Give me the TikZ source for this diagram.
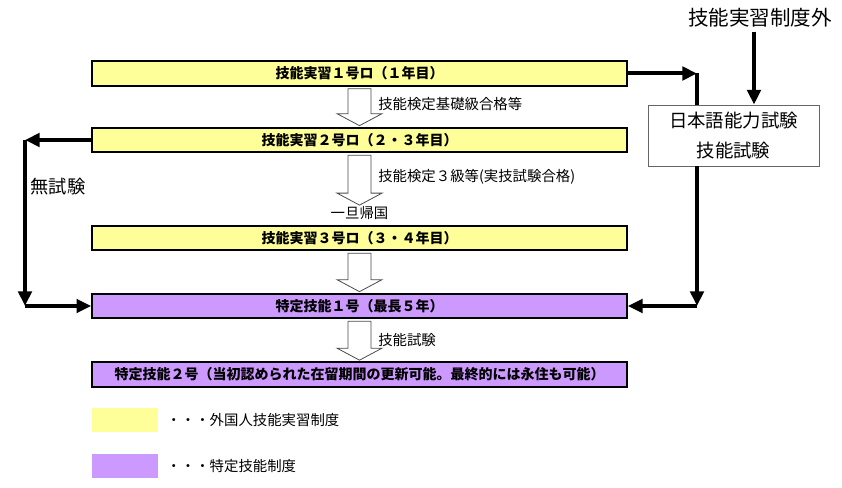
\documentclass[tikz,border=0pt]{standalone}
\usepackage{fontspec}
\setmainfont{Noto Sans CJK JP}
\usetikzlibrary{arrows.meta,calc,positioning}
\definecolor{trainee}{HTML}{FFFF99}
\definecolor{skilled}{HTML}{CC99FF}
\tikzset{
	stagebox/.style={draw, line width=1.5pt, minimum width=401pt, minimum height=18.5pt, inner sep=0pt, font=\fontsize{10.5}{12}\bfseries\selectfont},
	hollow/.style={draw=black!70, fill=white, line width=0.6pt},
	boldline/.style={line width=3pt},
	boldarrow/.style={line width=3pt, -{Triangle[length=11pt,width=10pt]}},
	lbl/.style={font=\fontsize{10.8}{12}\selectfont, inner sep=0pt},
	legendbox/.style={minimum width=49.5pt, minimum height=18pt, inner sep=0pt}
}
\newcommand{\blockarrow}[2]{%
	\draw[hollow] ($(#1.south)+(-11.5,2)$) -- ($(#2.north)+(-11.5,-13)$) -- ($(#2.north)+(-22.5,-13)$) -- ($(#2.north)+(0,-1)$)
		-- ($(#2.north)+(22.5,-13)$) -- ($(#2.north)+(11.5,-13)$) -- ($(#1.south)+(11.5,2)$) -- cycle;}
\begin{document}
\begin{tikzpicture}[x=0.75pt, y=-0.75pt]
	\useasboundingbox (0,0) rectangle (842,488);
	\node[stagebox, fill=trainee] (tr1) at (359.5,73.5) {技能実習１号ロ（１年目）};
	\node[stagebox, fill=trainee] (tr2) at (359.5,140) {技能実習２号ロ（２・３年目）};
	\node[lbl] (home) at (359.5,213) {一旦帰国};
	\node[stagebox, fill=trainee] (tr3) at (359.5,238) {技能実習３号ロ（３・４年目）};
	\node[stagebox, fill=skilled] (sk1) at (359.5,306) {特定技能１号（最長５年）};
	\node[stagebox, fill=skilled] (sk2) at (359.5,374.5) {特定技能２号（当初認められた在留期間の更新可能。最終的には永住も可能）};
	\blockarrow{tr1}{tr2}
	\blockarrow{tr2}{home}
	\blockarrow{tr3}{sk1}
	\blockarrow{sk1}{sk2}
	\node[lbl, anchor=west] at (378,104) {技能検定基礎級合格等};
	\node[lbl, anchor=west] at (378,177) {技能検定３級等(実技試験合格)};
	\node[lbl, anchor=west] at (378,340) {技能試験};
	\node[draw=black!60, fill=white, minimum width=128pt, minimum height=46pt, align=center, font=\fontsize{13.8}{23}\selectfont] (exam) at (733.5,135.5) {日本語能力試験\\技能試験};
	\node[font=\fontsize{15.4}{18}\selectfont, inner sep=0pt] (outside) at (760,18) {技能実習制度外};
	\node[font=\fontsize{13.7}{16}\selectfont, inner sep=0pt] (noexam) at (58,187) {無試験};
	\coordinate (rtop) at (697,73.5);
	\coordinate (rbot) at (697,306);
	\coordinate (ltop) at (25,140);
	\coordinate (lbot) at (25,306);
	\draw[boldarrow] ([yshift=-3pt]outside.south -| 754,0) -- (754,0 |- exam.north);
	\draw[boldarrow] (tr1.east) -- (rtop);
	\draw[boldline] (rtop) -- (rtop |- exam.north);
	\draw[boldarrow] (rtop |- exam.south) -- (rbot);
	\draw[boldarrow] (rbot) -- (sk1.east);
	\draw[boldarrow] (tr2.west) -- (ltop);
	\draw[boldarrow] (ltop) -- (lbot);
	\draw[boldarrow] (lbot) -- (sk1.west);
	\node[legendbox, fill=trainee] (legtr) at (125,420) {};
	\node[lbl, right=6pt of legtr] {・・・外国人技能実習制度};
	\node[legendbox, fill=skilled] (legsk) at (125,466) {};
	\node[lbl, right=6pt of legsk] {・・・特定技能制度};
\end{tikzpicture}
\end{document}
